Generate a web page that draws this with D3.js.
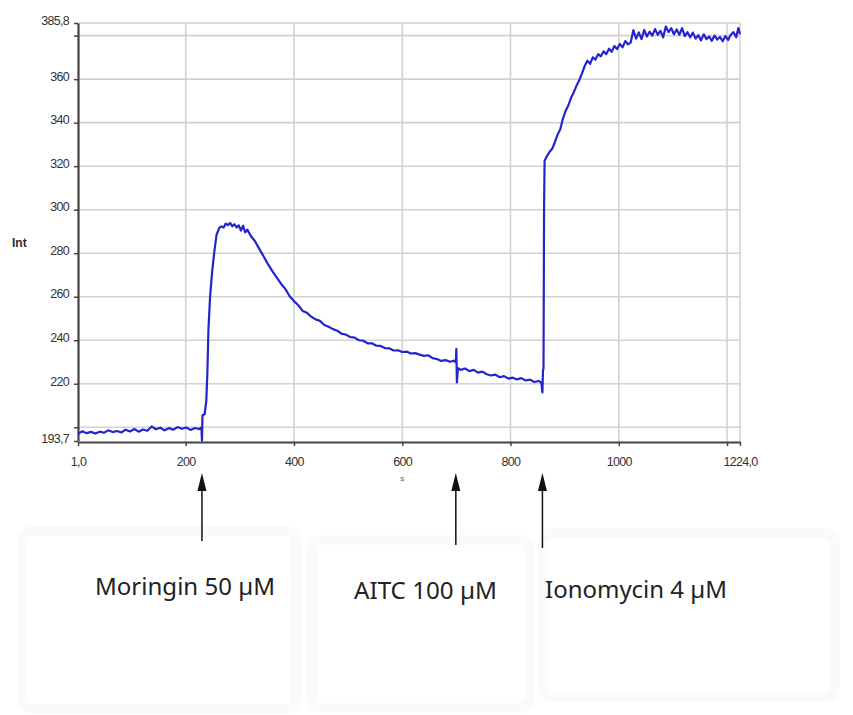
<!DOCTYPE html>
<html>
<head>
<meta charset="utf-8">
<script src="https://cdn.jsdelivr.net/npm/d3@7"></script>
<style>
body{margin:0;background:#fff;}
</style>
</head>
<body>
<svg id="chart" width="853" height="715"></svg>
<script>
// tick values / labels as printed on the recorder plot
var xTickValues = [1, 200, 400, 600, 800, 1000, 1200, 1224];
var xTickLabels = ["1,0", "200", "400", "600", "800", "1000", "", "1224,0"];
var yTickValues = [193.7, 200, 220, 240, 260, 280, 300, 320, 340, 360, 380, 385.8];
var yTickLabels = ["193,7", "", "220", "240", "260", "280", "300", "320", "340", "360", "", "385,8"];

// stimulus application times (s) and names
var stimulusTimes = [230, 699, 859];
var stimulusNames = ["Moringin 50 µM", "AITC 100 µM", "Ionomycin 4 µM"];

// fluorescence trace [time s, intensity]
var trace = [
  [1,197.0],[9,198.2],[17,197.3],[25,197.9],[33,197.1],[41,198.0],[49,197.5],[57,198.6],[65,197.8],[73,198.3],
  [81,197.6],[89,198.9],[97,198.1],[105,199.2],[113,198.0],[121,199.0],[129,198.4],[137,200.4],[145,199.1],[153,199.8],
  [161,198.6],[169,199.6],[177,198.9],[185,200.1],[193,199.3],[201,199.9],[209,198.8],[217,199.7],[225,199.2],[229,200.0],
  [230,193.9],[231,205.5],[235,206.0],[238,212.0],[240,225.0],[242,245.0],[245,260.0],[249,272.0],[253,281.0],[257,288.5],
  [262,291.6],[266,292.3],[270,291.8],[274,293.6],[278,292.9],[282,293.9],[286,292.4],[290,293.3],[294,291.9],[298,292.8],
  [302,290.4],[306,292.6],[310,289.6],[314,290.8],[320,288.0],[328,285.5],[336,282.0],[344,278.5],[352,275.0],[360,271.8],
  [368,268.9],[376,266.0],[384,263.6],[392,260.2],[400,258.0],[408,256.1],[416,253.5],[424,252.6],[432,250.8],[440,249.6],
  [448,248.9],[456,247.0],[464,246.2],[472,245.1],[480,244.4],[488,243.0],[496,242.6],[504,241.5],[512,241.2],[520,240.0],
  [528,239.8],[536,238.6],[544,238.6],[552,237.5],[560,237.4],[568,236.4],[576,236.3],[584,235.3],[592,235.4],[600,234.6],
  [608,234.8],[616,233.9],[624,234.1],[632,233.4],[640,232.8],[648,233.1],[656,231.8],[664,231.4],[672,230.5],[680,230.9],
  [688,230.1],[695,230.6],[699,229.9],[700,236.0],[701,220.6],[703,227.2],[708,226.4],[716,227.0],[724,225.8],[732,226.4],
  [740,225.1],[748,225.6],[756,224.4],[764,223.8],[772,224.2],[780,223.0],[788,223.5],[796,222.4],[804,222.8],[812,222.0],
  [820,222.6],[828,221.5],[836,221.9],[844,220.8],[852,221.3],[857,220.5],[859,216.0],[860,226.0],[861,227.0],[862,300.0],
  [863,322.5],[867,324.5],[872,326.5],[877,328.0],[882,331.0],[887,334.5],[892,337.0],[897,342.0],[902,345.5],[907,348.0],
  [912,351.5],[917,354.0],[922,357.0],[927,359.5],[932,362.5],[937,366.0],[942,368.5],[947,367.0],[952,370.0],[957,369.0],
  [962,371.5],[967,370.5],[972,372.8],[977,371.5],[982,374.0],[987,372.6],[992,375.2],[997,373.8],[1002,376.2],[1007,374.6],
  [1012,377.5],[1017,376.0],[1022,376.8],[1027,382.5],[1032,378.6],[1037,381.5],[1042,378.4],[1047,382.6],[1052,379.6],[1057,381.8],
  [1062,380.0],[1067,383.0],[1072,380.4],[1077,382.2],[1082,379.2],[1087,384.2],[1092,381.6],[1097,383.4],[1102,380.6],[1107,382.8],
  [1112,380.4],[1117,383.4],[1122,379.8],[1127,381.6],[1132,379.2],[1137,381.4],[1142,378.6],[1147,380.2],[1152,377.8],[1157,380.6],
  [1162,378.4],[1167,379.6],[1172,377.6],[1177,380.0],[1182,378.2],[1187,379.4],[1192,377.4],[1197,379.8],[1202,378.0],[1207,380.4],
  [1212,381.6],[1217,379.2],[1221,383.5],[1224,380.6]
];

var svg = d3.select("#chart");
var plotLeft = 78, plotRight = 740, plotTop = 23, plotBottom = 441;

var x = d3.scaleLinear().domain([1, 1224]).range([plotLeft, plotRight]);
var y = d3.scaleLinear().domain([193.7, 385.8]).range([plotBottom, plotTop]);

// faint boxes behind the stimulus labels
var boxes = [[22, 531, 274, 178], [312, 540, 218, 168], [543, 533, 292, 164]];
svg.selectAll(".box").data(boxes).enter().append("rect")
  .attr("x", function(d){ return d[0]; })
  .attr("y", function(d){ return d[1]; })
  .attr("width", function(d){ return d[2]; })
  .attr("height", function(d){ return d[3]; })
  .attr("rx", 10)
  .attr("fill", "none")
  .attr("stroke", "#fcf9f9")
  .attr("stroke-width", 10);

// grid
var grid = svg.append("g");
grid.selectAll(".vg").data(xTickValues.slice(1)).enter().append("line")
  .attr("x1", function(d){ return x(d); }).attr("x2", function(d){ return x(d); })
  .attr("y1", plotTop).attr("y2", plotBottom + 1)
  .attr("stroke", "#d2d2d2").attr("stroke-width", 1.6);
grid.selectAll(".hg").data(yTickValues.slice(1)).enter().append("line")
  .attr("x1", plotLeft).attr("x2", plotRight)
  .attr("y1", function(d){ return y(d); }).attr("y2", function(d){ return y(d); })
  .attr("stroke", "#d2d2d2").attr("stroke-width", 1.6);

// axes
var yAxis = d3.axisLeft(y).tickValues(yTickValues).tickSize(4).tickSizeOuter(0)
  .tickFormat(function(d, i){ return yTickLabels[i]; });
var gy = svg.append("g").attr("transform", "translate(" + plotLeft + ",0)").call(yAxis);
gy.select(".domain").attr("stroke", "#444").attr("stroke-width", 2.2);
gy.selectAll(".tick line").attr("stroke", "#444").attr("stroke-width", 1.5);
gy.selectAll(".tick text").attr("x", -9).attr("dy", "0.1em")
  .attr("fill", "#333").style("font-family", "Liberation Sans, Arial, sans-serif")
  .style("font-size", "12.5px").style("letter-spacing", "-0.7px");

var xAxis = d3.axisBottom(x).tickValues(xTickValues).tickSize(4).tickSizeOuter(0)
  .tickFormat(function(d, i){ return xTickLabels[i]; });
var gx = svg.append("g").attr("transform", "translate(0," + (plotBottom + 1) + ")").call(xAxis);
gx.select(".domain").attr("stroke", "#444").attr("stroke-width", 2.2);
gx.selectAll(".tick line").attr("stroke", "#444").attr("stroke-width", 1.5);
gx.selectAll(".tick text").attr("y", 15)
  .attr("fill", "#333").style("font-family", "Liberation Sans, Arial, sans-serif")
  .style("font-size", "12.5px").style("letter-spacing", "-0.7px");

svg.append("text").attr("x", 12).attr("y", 247).text("Int")
  .attr("fill", "#2a2a2a").style("font-family", "Liberation Sans, Arial, sans-serif")
  .style("font-size", "12px").style("font-weight", "bold");
svg.append("text").attr("x", x(600)).attr("y", 481).attr("text-anchor", "middle").text("s")
  .attr("fill", "#555").style("font-family", "Liberation Sans, Arial, sans-serif")
  .style("font-size", "8px");

// trace
var line = d3.line()
  .x(function(d){ return x(d[0]); })
  .y(function(d){ return y(d[1]); });
svg.append("path").datum(trace)
  .attr("d", line)
  .attr("fill", "none")
  .attr("stroke", "#2424cc")
  .attr("stroke-width", 2.2)
  .attr("stroke-linejoin", "round");

// stimulus arrows
var arrowEnd = [541, 545, 548];
var arrows = svg.append("g");
stimulusTimes.forEach(function(t, i){
  var px = x(t);
  arrows.append("line").attr("x1", px).attr("x2", px)
    .attr("y1", arrowEnd[i]).attr("y2", 488)
    .attr("stroke", "#111").attr("stroke-width", 1.5);
  arrows.append("path")
    .attr("d", "M" + px + ",473L" + (px - 4.5) + ",491L" + (px + 4.5) + ",491Z")
    .attr("fill", "#111");
});

// stimulus labels
var labelX = [95, 354, 545];
var labelW = [180, 143, 182];
var labelY = [595, 599, 598];
svg.selectAll(".stim").data(stimulusNames).enter().append("text")
  .attr("x", function(d, i){ return labelX[i]; })
  .attr("y", function(d, i){ return labelY[i]; })
  .attr("textLength", function(d, i){ return labelW[i]; })
  .attr("lengthAdjust", "spacingAndGlyphs")
  .attr("fill", "#222")
  .style("font-family", "Noto Sans, sans-serif")
  .style("font-size", "24px")
  .text(function(d){ return d; });
</script>
</body>
</html>
